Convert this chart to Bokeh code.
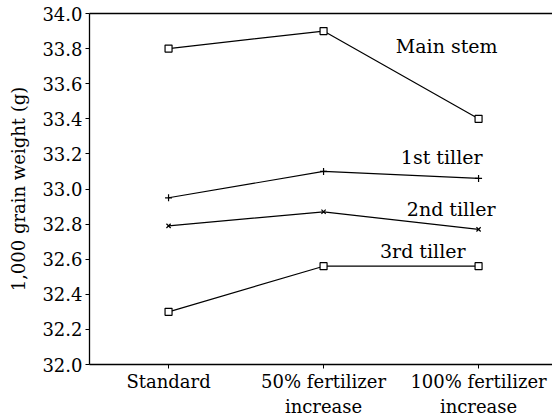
from bokeh.plotting import figure
from bokeh.models import Range1d, FixedTicker, LinearAxis, PrintfTickFormatter
from bokeh.embed import file_html
from bokeh.resources import INLINE
from bokeh.core.properties import value

# ---- data ----
categories = ["Standard", "50% fertilizer\nincrease", "100% fertilizer\nincrease"]
main_stem = [33.80, 33.90, 33.40]
tiller_1 = [32.95, 33.10, 33.06]
tiller_2 = [32.79, 32.87, 32.77]
tiller_3 = [32.30, 32.56, 32.56]
series_names = ["Main stem", "1st tiller", "2nd tiller", "3rd tiller"]
y_ticks = [32.0, 32.2, 32.4, 32.6, 32.8, 33.0, 33.2, 33.4, 33.6, 33.8, 34.0]
y_label = "1,000 grain weight (g)"

FONT = "DejaVu Serif"
FS = "18px"

x_idx = list(range(len(categories)))

p = figure(width=552, height=420, output_backend="svg", toolbar_location=None,
           x_range=Range1d(-0.51, 2.477), y_range=Range1d(32.0, 34.0),
           min_border_left=89, min_border_top=13, min_border_right=0,
           min_border_bottom=56, background_fill_color="white",
           border_fill_color="white")
p.xgrid.visible = False
p.ygrid.visible = False
p.outline_line_color = None

# axes
p.xaxis.ticker = FixedTicker(ticks=x_idx)
p.xaxis.major_label_overrides = {i: c for i, c in zip(x_idx, categories)}
p.yaxis.ticker = FixedTicker(ticks=y_ticks)
p.yaxis.formatter = PrintfTickFormatter(format="%.1f")
for ax in (p.xaxis[0], p.yaxis[0]):
    ax.major_tick_out = 4
    ax.major_tick_in = 0
    ax.minor_tick_line_color = None
    ax.axis_line_color = "black"
    ax.axis_line_width = 1.3
    ax.major_tick_line_color = "black"
    ax.major_label_text_font = FONT
    ax.major_label_text_font_size = FS
    ax.major_label_text_color = "black"
p.xaxis.major_label_standoff = 2
p.yaxis.major_label_standoff = 3
p.yaxis.axis_label = y_label
p.yaxis.axis_label_text_font = FONT
p.yaxis.axis_label_text_font_size = FS
p.yaxis.axis_label_text_font_style = "normal"
p.yaxis.axis_label_text_color = "black"
p.yaxis.axis_label_standoff = 10

top = LinearAxis(ticker=FixedTicker(ticks=[]), major_label_text_font_size="0px",
                 major_tick_line_color=None, minor_tick_line_color=None,
                 axis_line_color="black", axis_line_width=1.3, major_label_standoff=0)
p.add_layout(top, "above")

series = [main_stem, tiller_1, tiller_2, tiller_3]
markers = ["square", "cross", "x", "square"]
sizes = [7, 7, 6, 7]
label_dx = [19, 4, 17, -13]
label_dy = [-73, -21, -20, -15]

for vals, mk, sz, name, dx, dy in zip(series, markers, sizes, series_names, label_dx, label_dy):
    p.line(x_idx, vals, line_color="black", line_width=1.2)
    if mk == "square":
        p.scatter(x_idx, vals, marker=mk, size=sz, fill_color="white",
                  line_color="black", line_width=1.2)
    else:
        p.scatter(x_idx, vals, marker=mk, size=sz, line_color="black", line_width=1.2)
    p.text(x=[x_idx[-1]], y=[vals[-1]], text=[name], x_offset=dx, y_offset=dy,
           text_align="right", text_baseline="alphabetic",
           text_font=value(FONT), text_font_size="19px", text_color="black")

open("out.html", "w").write(file_html(p, INLINE))
